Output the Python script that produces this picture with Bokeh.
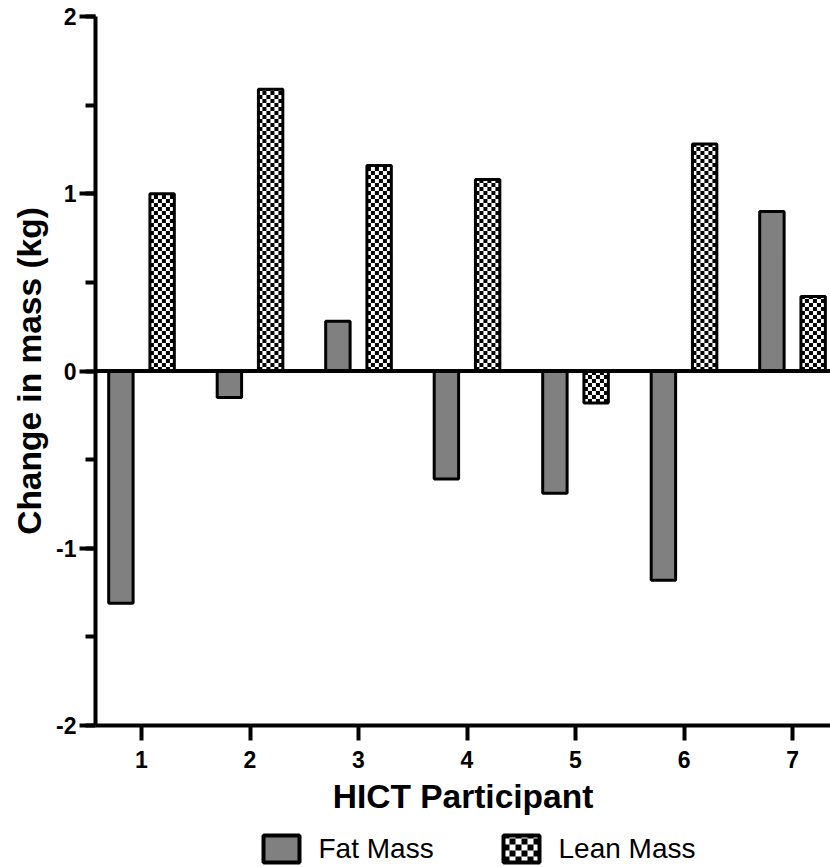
import math
from bokeh.plotting import figure
from bokeh.layouts import column
from bokeh.models import (Range1d, Span, FixedTicker, SingleIntervalTicker,
                          ColumnDataSource)
from bokeh.core.properties import value
from bokeh.embed import file_html
from bokeh.resources import INLINE

# ---- data ----
participants = [1, 2, 3, 4, 5, 6, 7]
fat_mass = [-1.31, -0.15, 0.28, -0.61, -0.69, -1.18, 0.90]
lean_mass = [1.00, 1.59, 1.16, 1.08, -0.18, 1.28, 0.42]
y_ticks = [-2, -1, 0, 1, 2]
y_tick_labels = ["-2", "-1", "0", "1", "2"]
series_names = ["Fat Mass", "Lean Mass"]

FONT = "Liberation Sans"
FAT_COLOR = "#808080"

# ---- layout ----
W, H_MAIN, H_LEG = 830, 822, 45
ML, MR, MT, MB = 95, 0, 16, 97
X0, X1 = 0.576, 7.350
Y0, Y1 = -2, 2
offset = 0.19
bar_w = 0.225

x_fat = [p - offset for p in participants]
x_lean = [p + offset for p in participants]
src = ColumnDataSource(dict(x_fat=x_fat, x_lean=x_lean, fat=fat_mass, lean=lean_mass))

p = figure(width=W, height=H_MAIN, output_backend="svg", toolbar_location=None,
           x_range=Range1d(X0, X1), y_range=Range1d(Y0, Y1),
           min_border_left=ML, min_border_right=MR, min_border_top=MT,
           min_border_bottom=MB)
p.outline_line_color = None
p.xgrid.visible = False
p.ygrid.visible = False

p.add_layout(Span(location=0, dimension="width", line_color="black", line_width=4))

# fat mass bars
p.vbar(x="x_fat", top="fat", bottom=0, width=bar_w, source=src,
       fill_color=FAT_COLOR, line_color="black", line_width=3)

# lean mass bars: white base, checker cells, outline
p.vbar(x="x_lean", top="lean", bottom=0, width=bar_w, source=src,
       fill_color="white", line_color=None)

px_x = (W - ML - MR) / (X1 - X0)
px_y = (H_MAIN - MT - MB) / (Y1 - Y0)
cell = 4.0
dx, dy = cell / px_x, cell / px_y
cl, cr, cb, ct = [], [], [], []
for xc, v in zip(x_lean, lean_mass):
    left, right = xc - bar_w / 2, xc + bar_w / 2
    ncols = math.ceil((right - left) / dx)
    nrows = math.ceil(abs(v) / dy)
    sgn = 1 if v >= 0 else -1
    for i in range(ncols):
        for j in range(nrows):
            if (i + j) % 2 == 0:
                l = left + i * dx
                r = min(left + (i + 1) * dx, right)
                a = j * dy
                b = min((j + 1) * dy, abs(v))
                cl.append(l); cr.append(r)
                cb.append(sgn * a); ct.append(sgn * b)
p.quad(left=cl, right=cr, bottom=cb, top=ct, fill_color="black", line_color=None)

p.vbar(x="x_lean", top="lean", bottom=0, width=bar_w, source=src,
       fill_color=None, line_color="black", line_width=3)

# y axis
ya = p.yaxis[0]
ya.ticker = SingleIntervalTicker(interval=1, num_minor_ticks=2)
ya.major_label_overrides = {t: s for t, s in zip(y_ticks, y_tick_labels)}
ya.axis_line_width = 4
ya.major_tick_line_width = 4
ya.minor_tick_line_width = 4
ya.major_tick_out = 16
ya.major_tick_in = 0
ya.minor_tick_out = 10
ya.minor_tick_in = 0
ya.major_label_text_font = FONT
ya.major_label_text_font_style = "bold"
ya.major_label_text_font_size = "23px"
ya.major_label_text_color = "black"
ya.major_label_standoff = 3
ya.axis_label = "Change in mass (kg)"
ya.axis_label_text_font = FONT
ya.axis_label_text_font_style = "bold"
ya.axis_label_text_font_size = "33.5px"
ya.axis_label_text_color = "black"
ya.axis_label_standoff = 5

# x axis
xa = p.xaxis[0]
xa.ticker = FixedTicker(ticks=participants)
xa.axis_line_width = 4
xa.major_tick_line_width = 4
xa.major_tick_out = 15
xa.major_tick_in = 0
xa.minor_tick_line_color = None
xa.major_label_text_font = FONT
xa.major_label_text_font_style = "bold"
xa.major_label_text_font_size = "23px"
xa.major_label_text_color = "black"
xa.major_label_standoff = 10
xa.axis_label = "HICT Participant"
xa.axis_label_text_font = FONT
xa.axis_label_text_font_style = "bold"
xa.axis_label_text_font_size = "33.5px"
xa.axis_label_text_color = "black"
xa.axis_label_standoff = 7

# ---- legend strip (x in page pixels, frame aligned with main plot) ----
lg = figure(width=W, height=H_LEG, output_backend="svg", toolbar_location=None,
            x_range=Range1d(ML, W - MR), y_range=Range1d(0, H_LEG),
            x_axis_type=None, y_axis_type=None,
            min_border_left=ML, min_border_right=MR, min_border_top=0,
            min_border_bottom=0)
lg.outline_line_color = None
lg.xgrid.visible = False
lg.ygrid.visible = False

sw_left = [263, 503]
sw_w, sw_b, sw_t = 36, 5, 32
lg.quad(left=[sw_left[0]], right=[sw_left[0] + sw_w], bottom=[sw_b], top=[sw_t],
        fill_color=FAT_COLOR, line_color="black", line_width=4)
lg.quad(left=[sw_left[1]], right=[sw_left[1] + sw_w], bottom=[sw_b], top=[sw_t],
        fill_color="white", line_color=None)
lcell = 6
gl, gr, gb, gt = [], [], [], []
for i in range(math.ceil(sw_w / lcell)):
    for j in range(math.ceil((sw_t - sw_b) / lcell)):
        if (i + j) % 2 == 0:
            gl.append(sw_left[1] + i * lcell)
            gr.append(min(sw_left[1] + (i + 1) * lcell, sw_left[1] + sw_w))
            gb.append(sw_b + j * lcell)
            gt.append(min(sw_b + (j + 1) * lcell, sw_t))
lg.quad(left=gl, right=gr, bottom=gb, top=gt, fill_color="black", line_color=None)
lg.quad(left=[sw_left[1]], right=[sw_left[1] + sw_w], bottom=[sw_b], top=[sw_t],
        fill_color=None, line_color="black", line_width=4)
lg.text(x=[s + sw_w + 19 for s in sw_left], y=[19, 19], text=series_names,
        text_font=value(FONT), text_font_size="28px", text_color="black",
        text_baseline="middle", text_align="left")

layout = column(p, lg, spacing=0)
open("out.html", "w").write(file_html(layout, INLINE))
